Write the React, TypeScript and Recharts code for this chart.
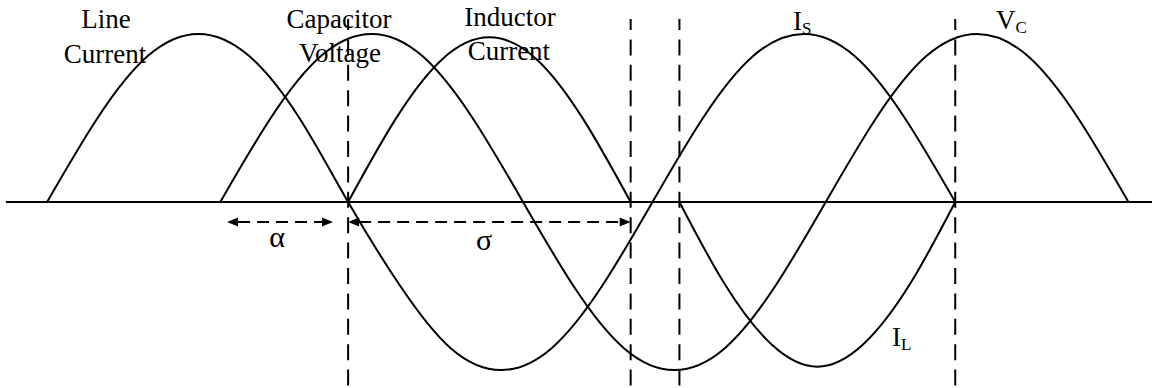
import React from "react";
import {
  LineChart,
  Line,
  XAxis,
  YAxis,
  ReferenceLine,
  ReferenceDot,
} from "recharts";

// x in electrical degrees, y normalised to the line-current peak
const X_DOMAIN = [-28, 657];
const Y_DOMAIN = [-1.107, 1.202];

const LINE_CURRENT_X = [0, 30, 60, 90, 120, 150, 179, 210, 240, 270, 300, 330, 360, 390, 420, 450, 480, 510, 540];
const LINE_CURRENT_Y = [0, 0.5, 0.87, 1, 0.87, 0.5, 0, -0.5, -0.87, -1, -0.87, -0.5, 0, 0.5, 0.87, 1, 0.87, 0.5, 0];

const CAP_VOLTAGE_X = [103, 133, 163, 193, 223, 253, 283, 313, 343, 373, 403, 433, 463, 493, 523, 553, 583, 613, 643];
const CAP_VOLTAGE_Y = [0, 0.5, 0.87, 1, 0.87, 0.5, 0, -0.5, -0.87, -1, -0.87, -0.5, 0, 0.5, 0.87, 1, 0.87, 0.5, 0];

// inductor current: positive half, off interval, negative half
const IND_CURRENT_X = [179, 207, 235, 263, 291, 319, 347, 361, 376, 403, 431, 458, 485, 513, 540];
const IND_CURRENT_Y = [0, 0.49, 0.85, 0.98, 0.85, 0.49, 0, null, 0, -0.49, -0.85, -0.98, -0.85, -0.49, 0];

// switching instants
const DIVIDERS = [179, 347, 376, 540];

const toPoints = (xs: number[], ys: (number | null)[]) =>
  xs.map((x, i) => ({ x, y: ys[i] }));

const lineCurrent = toPoints(LINE_CURRENT_X, LINE_CURRENT_Y);
const capVoltage = toPoints(CAP_VOLTAGE_X, CAP_VOLTAGE_Y);
const indCurrent = toPoints(IND_CURRENT_X, IND_CURRENT_Y);

const FONT = "'Liberation Serif', 'Times New Roman', serif";
const FONT_SIZE = 27;
const GREEK_SIZE = 30;
const SUB_SIZE = 17;

const WORD_LABELS = [
  { text: "Line", x: 35, y: 1.036, size: FONT_SIZE },
  { text: "Current", x: 34.4, y: 0.827, size: FONT_SIZE },
  { text: "Capacitor", x: 173.6, y: 1.036, size: FONT_SIZE },
  { text: "Voltage", x: 174.2, y: 0.833, size: FONT_SIZE },
  { text: "Inductor", x: 275.2, y: 1.048, size: FONT_SIZE },
  { text: "Current", x: 274.6, y: 0.845, size: FONT_SIZE },
  { text: "α", x: 136.7, y: -0.268, size: GREEK_SIZE },
  { text: "σ", x: 259.8, y: -0.286, size: GREEK_SIZE },
];

const SYMBOL_LABELS = [
  { main: "I", sub: "S", x: 443.5, y: 1.024 },
  { main: "V", sub: "C", x: 564.2, y: 1.03 },
  { main: "I", sub: "L", x: 502.4, y: -0.857 },
];

const SPANS = [
  { from: 107, to: 170, y: -0.119 },
  { from: 179, to: 347, y: -0.119 },
];

function DoubleArrow(props: any) {
  const { x1, y1, x2 } = props;
  const left = Math.min(x1, x2);
  const right = Math.max(x1, x2);
  const head = 11;
  const half = 4.5;
  return (
    <g>
      <line
        x1={left + head}
        y1={y1}
        x2={right - head}
        y2={y1}
        stroke="#000"
        strokeWidth={2}
        strokeDasharray="12 7"
      />
      <polygon
        points={`${left},${y1} ${left + head},${y1 - half} ${left + head},${y1 + half}`}
        fill="#000"
      />
      <polygon
        points={`${right},${y1} ${right - head},${y1 - half} ${right - head},${y1 + half}`}
        fill="#000"
      />
    </g>
  );
}

export default function App() {
  const traceProps = {
    dataKey: "y",
    type: "natural" as const,
    stroke: "#000",
    strokeWidth: 2,
    dot: false,
    activeDot: false,
    connectNulls: false,
    isAnimationActive: false,
  };

  return (
    <div
      style={{
        position: "absolute",
        left: 0,
        top: 0,
        width: 1152,
        height: 388,
        background: "#fff",
      }}>
      <LineChart
        width={1152}
        height={388}
        margin={{ top: 0, right: 0, bottom: 0, left: 0 }}>
        <XAxis
          type="number"
          dataKey="x"
          domain={X_DOMAIN}
          allowDataOverflow
          hide
        />
        <YAxis type="number" domain={Y_DOMAIN} allowDataOverflow hide />

        <ReferenceLine
          segment={[
            { x: -24.5, y: 0 },
            { x: 657, y: 0 },
          ]}
          stroke="#000"
          strokeWidth={2}
          ifOverflow="visible"
        />

        {DIVIDERS.map((d) => (
          <ReferenceLine
            key={`div-${d}`}
            segment={[
              { x: d, y: 1.089 },
              { x: d, y: Y_DOMAIN[0] },
            ]}
            stroke="#000"
            strokeWidth={2}
            strokeDasharray="16 9.4"
            strokeDashoffset={5}
            ifOverflow="visible"
          />
        ))}

        <Line data={lineCurrent} {...traceProps} />
        <Line data={capVoltage} {...traceProps} />
        <Line data={indCurrent} {...traceProps} />

        {SPANS.map((s) => (
          <ReferenceLine
            key={`span-${s.from}`}
            segment={[
              { x: s.from, y: s.y },
              { x: s.to, y: s.y },
            ]}
            ifOverflow="visible"
            shape={(p: any) => <DoubleArrow {...p} />}
          />
        ))}

        {WORD_LABELS.map((l, i) => (
          <ReferenceDot
            key={`word-${i}`}
            x={l.x}
            y={l.y}
            r={0}
            ifOverflow="visible"
            shape={(p: any) => (
              <text
                x={p.cx}
                y={p.cy}
                textAnchor="middle"
                fontFamily={FONT}
                fontSize={l.size}
                fill="#000">
                {l.text}
              </text>
            )}
          />
        ))}

        {SYMBOL_LABELS.map((l, i) => (
          <ReferenceDot
            key={`sym-${i}`}
            x={l.x}
            y={l.y}
            r={0}
            ifOverflow="visible"
            shape={(p: any) => (
              <text
                x={p.cx}
                y={p.cy}
                textAnchor="start"
                fontFamily={FONT}
                fontSize={FONT_SIZE}
                fill="#000">
                {l.main}
                <tspan dy={4} fontSize={SUB_SIZE}>
                  {l.sub}
                </tspan>
              </text>
            )}
          />
        ))}
      </LineChart>
    </div>
  );
}
